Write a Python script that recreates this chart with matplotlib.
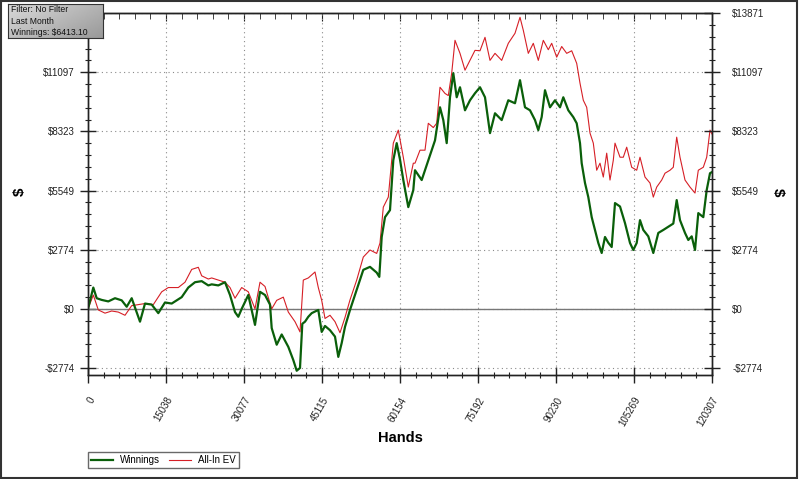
"""Poker graph: winnings vs all-in EV over the last month"""

import matplotlib

matplotlib.use("Agg")
import matplotlib.pyplot as plt
import numpy as np
from matplotlib.patches import Rectangle
from matplotlib.ticker import AutoMinorLocator, FixedLocator

plt.rcParams["font.family"] = ["Liberation Sans", "DejaVu Sans"]

# hands played -> cumulative dollars
win_hands = [0, 1022, 1677, 2641, 3914, 5206, 6497, 7461, 8425, 10026, 10990, 12281,
             13554, 14846, 16137, 18065, 19338, 20630, 21921, 23194, 23849, 25122,
             26414, 27378, 28342, 28978, 29633, 30906, 32198, 33162, 34126, 35090,
             35417, 36381, 37345, 38618, 39582, 40237, 40874, 41317, 41838, 42474,
             43129, 44402, 45057, 45694, 46658, 47622, 48258, 48913, 49550, 50514,
             51805, 53078, 54370, 55661, 56163, 56625, 57262, 58226, 58862, 59517,
             60154, 60790, 61754, 62718, 63046, 64337, 65610, 66902, 67866, 68502,
             69157, 69794, 70430, 71085, 71722, 72686, 73650, 74614, 75578, 76542,
             77506, 78470, 79761, 81034, 82326, 83290, 84254, 85218, 86182, 86818,
             87473, 88110, 89074, 90038, 91002, 91638, 92602, 93566, 94221, 94858,
             95183, 95822, 96458, 97113, 97750, 98386, 99041, 99678, 100314, 100969,
             101606, 102570, 103534, 104498, 105134, 105789, 106426, 107062, 108026,
             108990, 109954, 110918, 111882, 112846, 113501, 114138, 115102, 115738,
             116393, 117030, 117666, 118630, 119285, 119922, 120307]
winnings = [0, 1000, 500, 420, 350, 500, 400, 100, 500, -600, 250, 200,
            -200, 300, 250, 550, 1000, 1250, 1300, 1100, 1150, 1100,
            1250, 650, -150, -370, 0, 650, -750, 800, 650, 200,
            -900, -1680, -1200, -1780, -2400, -2900, -2770, -700, -600, -370,
            -200, -50, -1080, -800, -1000, -1300, -2250, -1600, -840, -50,
            900, 1830, 1970, 1700, 1500, 3370, 4300, 4630, 6970, 7770,
            7000, 6040, 4770, 5570, 6500, 6040, 6970, 7900, 9450, 8850,
            7770, 9920, 11050, 9920, 10390, 9310, 9780, 10110, 10390, 9920,
            8240, 9170, 8850, 9780, 9640, 10720, 9450, 9310, 8850, 8380,
            9000, 10250, 9450, 9780, 9450, 9920, 9310, 8990, 8700, 7770,
            6830, 5900, 5240, 4300, 3700, 3090, 2620, 3370, 3100, 2900,
            4960, 4800, 4020, 3090, 2760, 3090, 4160, 3700, 3400,
            2620, 3560, 3700, 3850, 4000, 5100, 4160, 3560, 3230,
            3400, 2760, 4490, 4300, 5570, 6360, 6413]

ev_hands = [0, 1022, 1986, 3278, 4569, 5842, 7134, 8425, 9698, 10990, 12590, 14210,
            15482, 17410, 18702, 19993, 21266, 21921, 23194, 23849, 25122, 26414,
            27378, 28342, 29633, 30906, 32198, 33162, 34126, 35417, 36381, 37654,
            38618, 39910, 40874, 41510, 42474, 43766, 44402, 45057, 45694, 46658,
            47622, 48586, 49550, 50514, 51805, 53078, 54370, 55661, 56298, 56934,
            57898, 58862, 59826, 60790, 61754, 62718, 63046, 64010, 64974, 65610,
            66574, 67229, 67866, 68830, 69466, 70121, 70758, 71722, 72686, 73650,
            74614, 75578, 76542, 77506, 78470, 79761, 81034, 82326, 83290, 83926,
            84890, 85854, 86818, 87782, 88746, 89401, 90365, 91329, 92294, 93258,
            94221, 94858, 95494, 96149, 96786, 97422, 98077, 98714, 99350, 100005,
            100642, 101278, 101606, 102570, 103206, 103861, 104824, 105789, 106426,
            107390, 108354, 108990, 109645, 110609, 111246, 112210, 112846, 113501,
            114138, 115102, 116066, 117030, 117666, 118630, 119285, 119922, 120307]
allin_ev = [0, 650, -50, -200, -100, -150, -300, 150, 200, 250, 200, 800,
            1000, 1000, 1250, 1850, 1950, 1550, 1400, 1450, 1350, 1250,
            1000, 500, 1000, 800, 0, 1250, 1050, 0, 400, 550,
            -150, -600, -1080, 1350, 1450, 1730, 1000, 400, -450, -300,
            -600, -1120, -400, 420, 1350, 2430, 2760, 2600, 3090, 4770,
            5240, 7770, 8380, 7110, 5710, 6830, 6830, 7440, 7440, 8700,
            8500, 8700, 10390, 10100, 10000, 11050, 12590, 11980, 11190, 11650,
            12120, 12100, 12730, 11650, 11980, 11650, 12450, 12920, 13670, 13060,
            11980, 12450, 11650, 12590, 12150, 12450, 11800, 12300, 11980, 12100,
            11510, 10580, 9780, 9450, 8240, 7770, 6500, 6830, 6180, 7300,
            6040, 6970, 7770, 7110, 7110, 7580, 6640, 6500, 7110,
            6180, 5900, 5240, 5710, 6040, 6360, 6500, 6640, 8050,
            7110, 6040, 5710, 5430, 6500, 6640, 7110, 8380, 8200]

x_ticks = [0, 15038, 30077, 45115, 60154, 75192, 90230, 105269, 120307]
y_ticks = [-2774, 0, 2774, 5549, 8323, 11097, 13871]
y_labels = ["-$2774", "$0", "$2774", "$5549", "$8323", "$11097", "$13871"]
info_lines = ["Filter: No Filter", "Last Month", "Winnings: $6413.10"]

GREEN = "#0a5f0a"
RED = "#d61f26"
TXT = "#222222"
INK = "#222222"

fig = plt.figure(figsize=(7.99, 4.79), dpi=100)
fig.patch.set_facecolor("white")
ax = fig.add_axes([88 / 799, 1 - 375 / 479, 624 / 799, 362 / 479])

ax.plot(ev_hands, allin_ev, color=RED, lw=0.8, label="All-In EV", zorder=3)
ax.plot(win_hands, winnings, color=GREEN, lw=1.6, label="Winnings", zorder=4)
ax.axhline(0, color="#777777", lw=1.0, zorder=2)

ax.set_xlim(0, 120307)
ax.set_ylim(-3100, 13871)
ax.xaxis.set_major_locator(FixedLocator(x_ticks))
ax.set_xticklabels([str(v) for v in x_ticks], rotation=60, ha="right",
                   va="top", rotation_mode="anchor", fontsize=7, color=TXT)
ax.xaxis.set_minor_locator(AutoMinorLocator(5))
ax.yaxis.set_major_locator(FixedLocator(y_ticks))
# the top-left label sits under the info box in the original, so leave it blank
ax.set_yticklabels(y_labels[:-1] + [""], fontsize=7, color=TXT)
ax.yaxis.set_minor_locator(AutoMinorLocator(5))

ax.tick_params(axis="both", which="major", direction="inout", length=11,
               width=1.0, color=INK)
ax.tick_params(axis="both", which="minor", direction="inout", length=5,
               width=0.8, color=INK)
ax.tick_params(axis="y", which="major", pad=4)
ax.tick_params(axis="x", which="major", pad=9)

# right side labels, a bit further from the spine
ax2 = ax.twinx()
ax2.set_ylim(ax.get_ylim())
ax2.yaxis.set_major_locator(FixedLocator(y_ticks))
ax2.set_yticklabels(y_labels, fontsize=7, color=TXT)
ax2.yaxis.set_minor_locator(AutoMinorLocator(5))
ax2.tick_params(which="major", direction="inout", length=11, width=1.0,
                color=INK, pad=9)
ax2.tick_params(which="minor", direction="inout", length=5, width=0.8,
                color=INK)

top = ax.secondary_xaxis("top")
top.xaxis.set_major_locator(FixedLocator(x_ticks))
top.xaxis.set_minor_locator(AutoMinorLocator(5))
top.tick_params(which="major", direction="in", length=6, color=INK,
                labeltop=False)
top.tick_params(which="minor", direction="in", length=4, color=INK)
top.spines["top"].set_color(INK)

for a in (ax, ax2):
    for s in a.spines.values():
        s.set_color(INK)
        s.set_linewidth(1.0)

ax.grid(True, which="major", linestyle=(0, (1, 3)), color="#8a8a8a", lw=0.8)

ax.set_xlabel("Hands", fontsize=10.5, fontweight="bold", labelpad=2)
fig.text(20 / 799, 1 - 192 / 479, "$", fontsize=11, fontweight="bold",
         rotation=90, ha="center", va="center")
fig.text(778 / 799, 1 - 192 / 479, "$", fontsize=11, fontweight="bold",
         rotation=270, ha="center", va="center")

fig.legend(loc="upper left", bbox_to_anchor=(88 / 799, 1 - 452 / 479),
           handles=ax.get_lines()[1::-1], ncol=2, fontsize=7,
           frameon=True, fancybox=False, edgecolor="#444444",
           handlelength=2.3, columnspacing=0.9, handletextpad=0.7,
           borderpad=0.3, borderaxespad=0)

# info box with the grey gradient
box = fig.add_axes([8 / 799, 1 - 38 / 479, 95 / 799, 34 / 479], zorder=10)
gx, gy = np.meshgrid(np.linspace(0, 1, 60), np.linspace(0, 1, 30))
box.imshow(0.85 - 0.25 * (gx * 0.6 + gy * 0.4), cmap="gray", vmin=0, vmax=1,
           aspect="auto", extent=(0, 1, 0, 1), origin="upper")
box.set_xticks([])
box.set_yticks([])
for s in box.spines.values():
    s.set_color("#333333")
for i, line in enumerate(info_lines):
    box.text(0.03, 0.84 - i * 0.34, line, fontsize=6.2, color="#111111",
             va="center", ha="left", transform=box.transAxes)

fig.add_artist(Rectangle((0.001, 0.002), 0.997, 0.996, transform=fig.transFigure,
                         fill=False, edgecolor="#333333", lw=1.5))

fig.savefig("out.png", dpi=100)
